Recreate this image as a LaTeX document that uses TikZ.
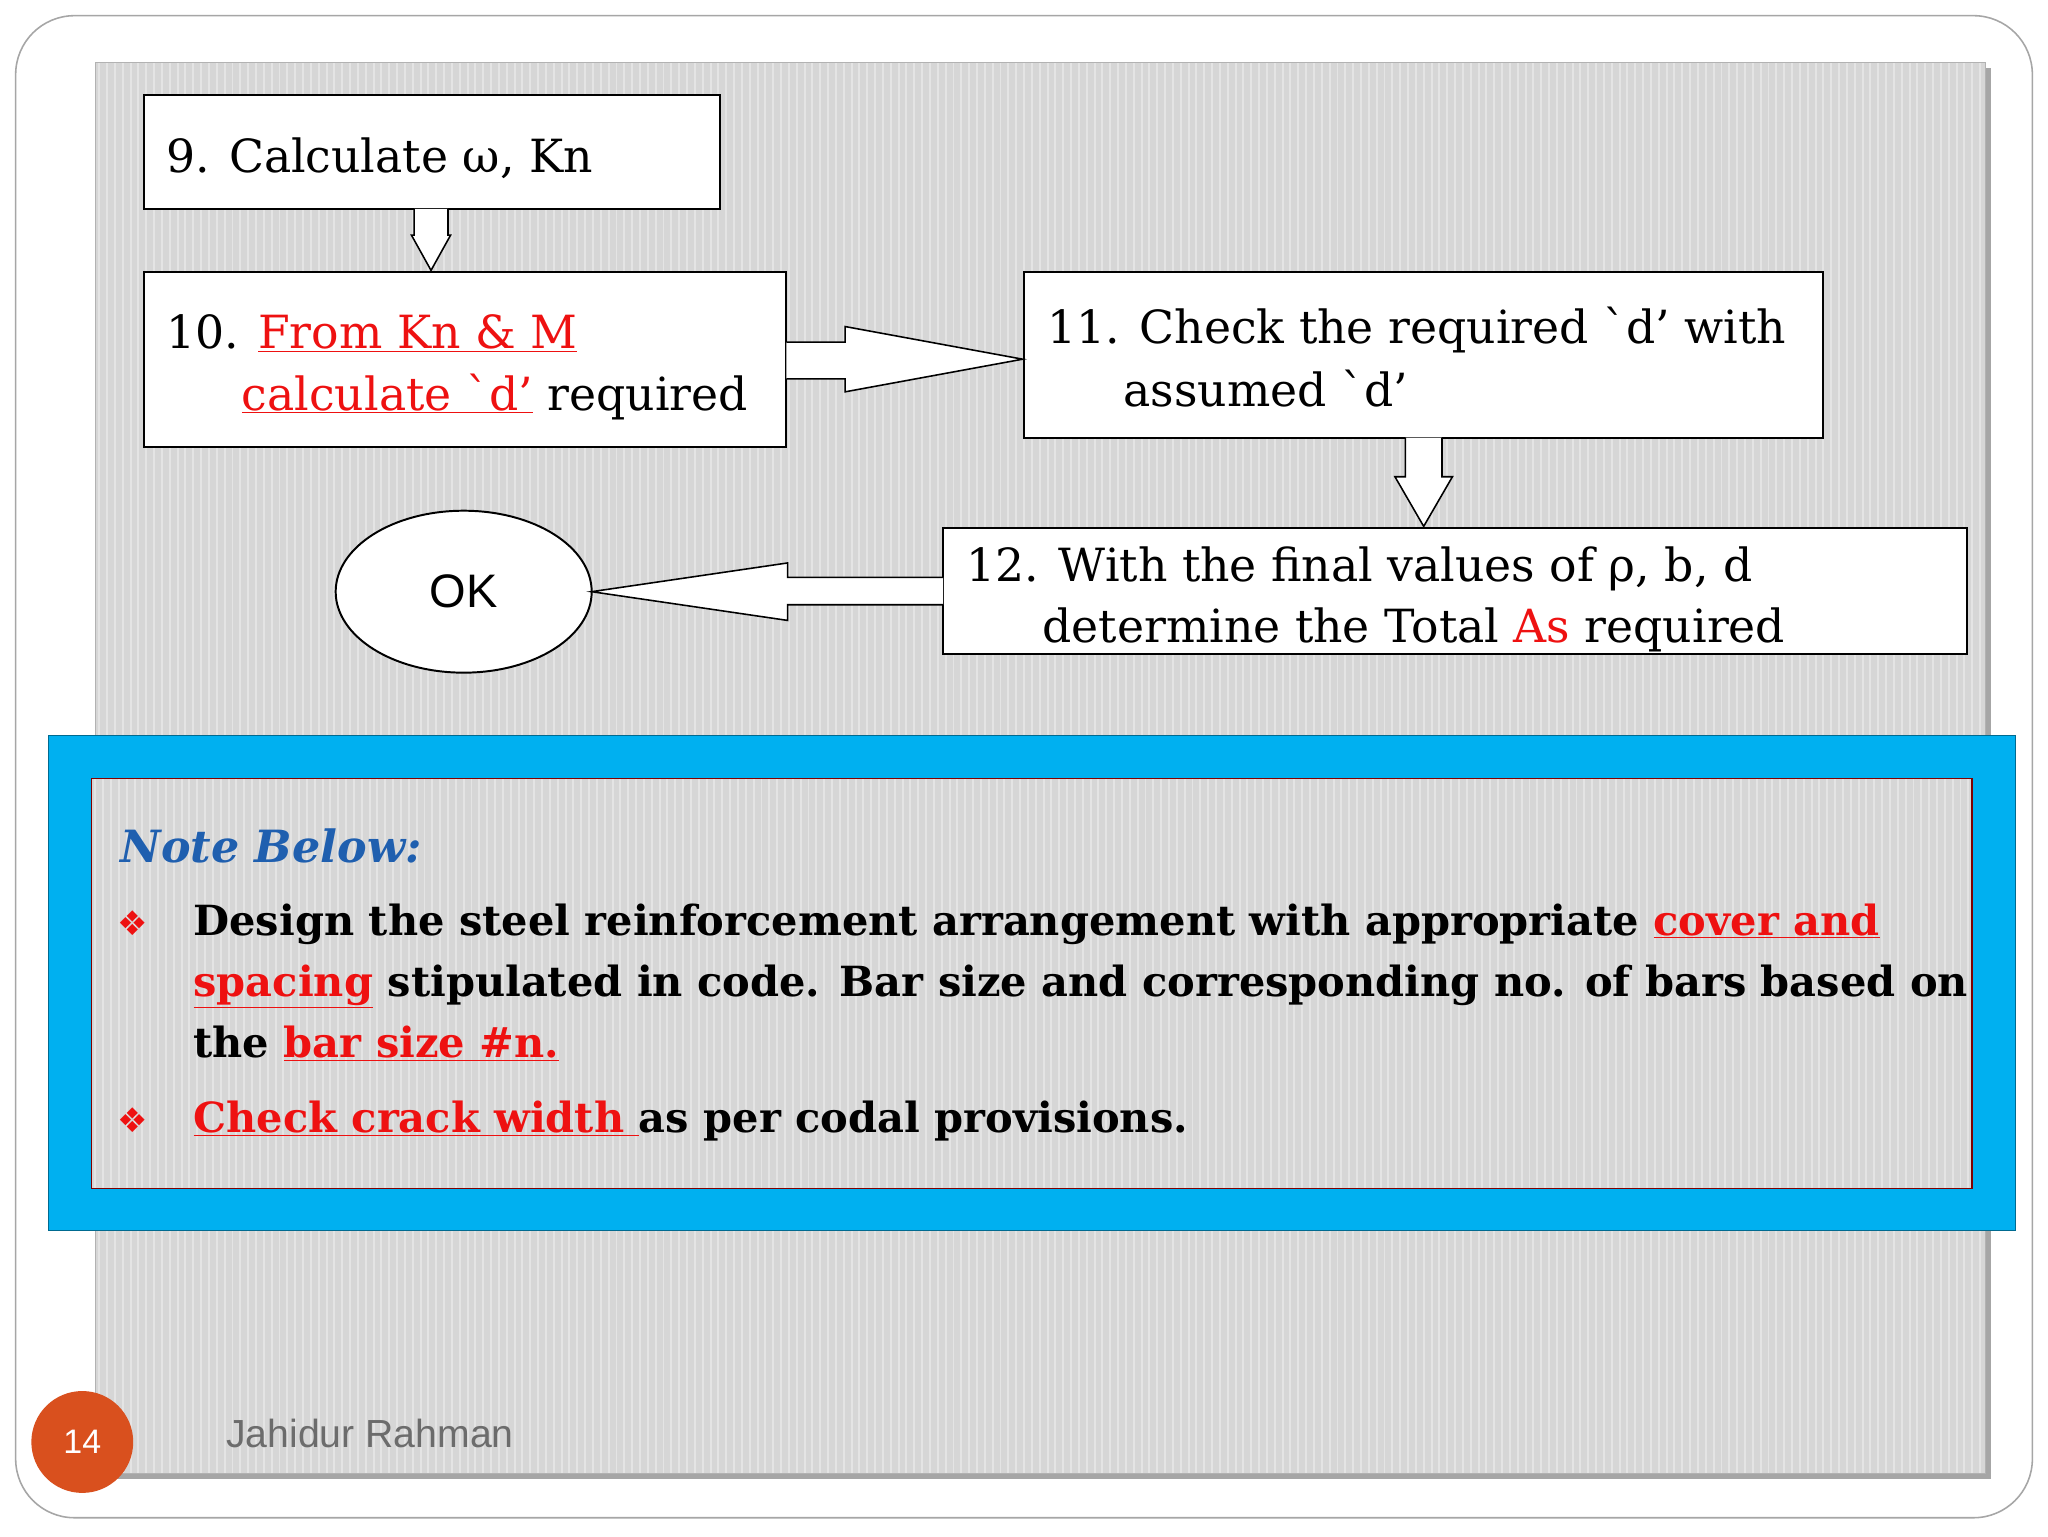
\documentclass[tikz,border=0pt]{standalone}
\usepackage{fontspec}
\setmainfont{DejaVu Serif}
\newfontfamily\sansf{Liberation Sans}
\newfontfamily\symf{DejaVu Sans}
\usetikzlibrary{shapes.geometric,calc}
\definecolor{panel}{HTML}{D6D6D6}
\definecolor{cyanb}{HTML}{00B0F0}
\definecolor{noteblue}{HTML}{1F5FAF}
\definecolor{foot}{HTML}{D9501E}
\definecolor{rd}{HTML}{EE1111}
\newcommand{\bq}{\textasciigrave}
\begin{document}
\begin{tikzpicture}[x=1pt,y=-1pt,
  box/.style={draw=black,line width=1.5pt,fill=white},
  harrow/.style={draw=black,line width=1.2pt,fill=white},
  bt/.style={anchor=base west,inner sep=0pt,font=\fontsize{35}{40}\selectfont},
  nt/.style={anchor=base west,inner sep=0pt,font=\fontsize{31.8}{40}\selectfont\bfseries},
  bul/.style={anchor=base west,inner sep=0pt,text=rd,font=\symf\fontsize{26}{28}\selectfont}]
\useasboundingbox (0,0) rectangle (1568,1176);
\fill[white] (0,0) rectangle (1568,1176);
\draw[gray!70,line width=1.2pt,rounded corners=45] (12,12) rectangle (1556,1162);
% panel
\fill[black!35] (77,52) rectangle (1524,1132);
\fill[panel] (73,48) rectangle (1520,1128);
\foreach \x in {76,82,...,1518} \draw[white,opacity=0.35,line width=1.5pt] (\x,48) -- (\x,1128);
\draw[gray!60] (73,48) rectangle (1520,1128);
% boxes
\draw[box] (110,73) rectangle (551,160);
\node[bt] at (127,132) {9. Calculate ω, Kn};
\draw[box] (110,208) rectangle (602,342);
\node[bt] at (127,267) {10. \textcolor{rd}{\underline{From Kn \& M}}};
\node[bt] at (185,314) {\textcolor{rd}{\underline{calculate \bq d’}} required};
\draw[box] (784,208) rectangle (1396,335);
\node[bt] at (802,263) {11. Check the required \bq d’ with};
\node[bt] at (860,311) {assumed \bq d’};
\draw[box] (722,404) rectangle (1506,501);
\node[bt] at (740,445) {12. With the final values of ρ, b, d};
\node[bt] at (798,492) {determine the Total \textcolor{rd}{As} required};
\node[draw=black,line width=1.5pt,fill=white,ellipse,minimum width=196,minimum height=124,font=\sansf\fontsize{36}{40}\selectfont] (ok) at (355,453) {OK};
% arrows
\draw[harrow] (317,160) -- (317,180) -- (315,180) -- (330,207) -- (345,180) -- (343,180) -- (343,160);
\draw[harrow] (602,262) -- (647,262) -- (647,250) -- (783,275) -- (647,300) -- (647,290) -- (602,290);
\draw[harrow] (1076,335) -- (1076,365) -- (1068,365) -- (1090,403) -- (1112,365) -- (1104,365) -- (1104,335);
\draw[harrow] (722,442) -- (603,442) -- (603,431) -- (453,453) -- (603,475) -- (603,463) -- (722,463);
% note band
\draw[fill=cyanb,draw=cyanb!60!black] (37,563) rectangle (1543,942);
\fill[panel] (70,596) rectangle (1510,910);
\foreach \x in {73,79,...,1508} \draw[white,opacity=0.35,line width=1.5pt] (\x,596) -- (\x,910);
\draw[draw=red!50!black,line width=1.2pt] (70,596) rectangle (1510,910);
\node[anchor=base west,inner sep=0pt,text=noteblue,font=\fontsize{34}{40}\selectfont\bfseries\itshape] at (92,660) {Note Below:};
\node[bul] at (90,716) {❖};
\node[nt] at (148,716) {Design the steel reinforcement arrangement with appropriate \textcolor{rd}{\underline{cover and}}};
\node[nt] at (148,763) {\textcolor{rd}{\underline{spacing}} stipulated in code. Bar size and corresponding no. of bars based on};
\node[nt] at (148,810) {the \textcolor{rd}{\underline{bar size \#n.}}};
\node[bul] at (90,867) {❖};
\node[nt] at (148,867) {\textcolor{rd}{\underline{Check crack width }}as per codal provisions.};
% footer
\node[circle,fill=foot,minimum size=78,text=white,font=\sansf\fontsize{26}{28}\selectfont] (pg) at (63,1104) {14};
\node[anchor=base west,inner sep=0pt,text=gray!85!black,font=\sansf\fontsize{30}{30}\selectfont] at (173,1108) {Jahidur Rahman};
\end{tikzpicture}
\end{document}
